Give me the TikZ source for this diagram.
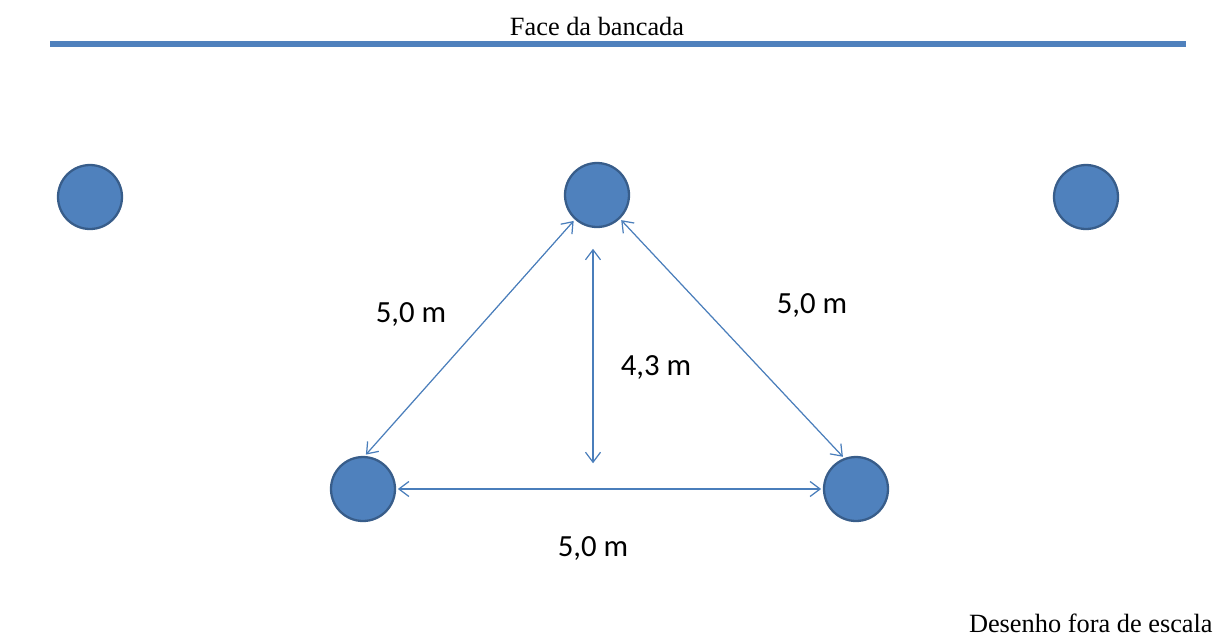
\documentclass[tikz,border=0pt]{standalone}
\usepackage{fontspec}
\setmainfont{Liberation Serif}
\newfontfamily\calibfont{Carlito}
\usepackage{tikz}
\usetikzlibrary{positioning, arrows.meta}
\definecolor{poleblue}{HTML}{4F81BD}
\definecolor{poleedge}{HTML}{385D8A}
\definecolor{dimblue}{HTML}{4A7EBB}

\begin{document}
\begin{tikzpicture}[
  x=0.02cm, y=-0.02cm,
  pole/.style={circle, draw=poleedge, line width=1.3pt, fill=poleblue,
               minimum size=1.28cm, inner sep=0pt},
  arr/.style={{Straight Barb[length=2mm, width=3mm]}-{Straight Barb[length=2mm, width=3mm]},
              draw=dimblue, line width=0.7pt, shorten <=1pt, shorten >=1pt},
  dimlabel/.style={font=\calibfont\fontsize{17.5}{21}\selectfont},
  note/.style={font=\fontsize{15}{18}\selectfont, inner sep=0pt}
]
\useasboundingbox (0,0) rectangle (1214,637);

\coordinate (barL) at (50,44);
\coordinate (barR) at (1186,44);
\draw[poleblue, line width=0.12cm] (barL) -- (barR);
\node[note] (face) at (597,26) {Face da bancada};

\node[pole] (c1) at (90,197) {};
\node[pole] (c2) at (597,195) {};
\node[pole] (c3) at (1086,197) {};
\node[pole] (c4) at (363,489) {};
\node[pole] (c5) at (856,489) {};

\draw[arr] (c2.228) -- (c4.87);
\draw[arr] (c2.-46) -- (c5.111);
\draw[arr] (c4) -- (c5);

\coordinate (vtop) at (593,247);
\coordinate (vbot) at (593,465);
\draw[arr] (vtop) -- (vbot);

\node[dimlabel] (dl) at (411,314) {5,0 m};
\node[dimlabel] (dr) at (812,305) {5,0 m};
\node[dimlabel] (dh) at (656,367) {4,3 m};
\node[dimlabel] (db) at (593,548) {5,0 m};

\node[note, anchor=east] (scale) at (1213,623) {Desenho fora de escala};
\end{tikzpicture}
\end{document}
